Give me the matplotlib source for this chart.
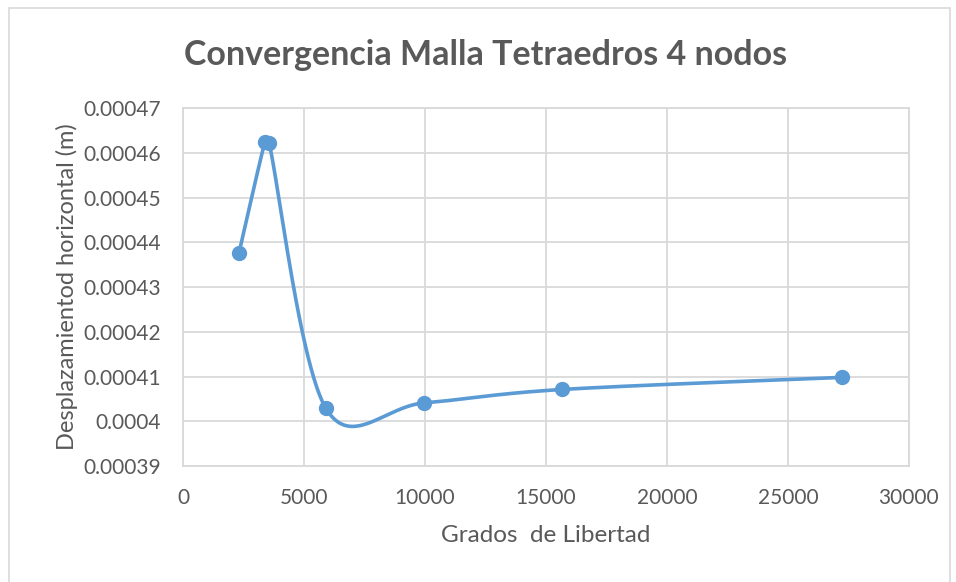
import matplotlib
matplotlib.use("Agg")
import matplotlib.pyplot as plt
from matplotlib.patches import Rectangle
import numpy as np

# ======= DATOS ======= #
grados = [2314, 3380, 3560, 5905, 9970, 15650, 27225]
desplaz = [0.0004376, 0.0004623, 0.0004622, 0.0004029, 0.0004041, 0.0004071, 0.0004098]

x_ticks = [0, 5000, 10000, 15000, 20000, 25000, 30000]
y_ticks = [0.00039, 0.0004, 0.00041, 0.00042, 0.00043, 0.00044, 0.00045, 0.00046, 0.00047]
y_labels = ['0.00039', '0.0004', '0.00041', '0.00042', '0.00043',
            '0.00044', '0.00045', '0.00046', '0.00047']

AZUL = '#5b9bd5'
GRIS = '#595959'
GRID = '#d9d9d9'

plt.rcParams['font.family'] = ['Lato', 'DejaVu Sans']


# ======= SUAVIZADO TIPO EXCEL (bezier con tangentes limitadas) ======= #
def suavizar(px, py, n=80):
    pts = np.column_stack([np.asarray(px, float), np.asarray(py, float)])
    out = []
    for i in range(len(pts) - 1):
        p0 = pts[i - 1] if i > 0 else pts[i]
        p1 = pts[i]
        p2 = pts[i + 1]
        p3 = pts[i + 2] if i + 2 < len(pts) else pts[i + 1]
        d12 = np.linalg.norm(p2 - p1)
        d02 = np.linalg.norm(p2 - p0)
        d13 = np.linalg.norm(p3 - p1)
        f1 = 1 / 6
        f2 = 1 / 6
        if d02 / 6 > d12 / 2 and d02 > 0:
            f1 = d12 / 2 / d02
        if d13 / 6 > d12 / 2 and d13 > 0:
            f2 = d12 / 2 / d13
        c1 = p1 + (p2 - p0) * f1
        c2 = p2 - (p3 - p1) * f2
        t = np.linspace(0, 1, n)[:, None]
        seg = ((1 - t)**3) * p1 + 3 * ((1 - t)**2) * t * c1 + 3 * (1 - t) * t**2 * c2 + t**3 * p2
        out.append(seg)
    out = np.vstack(out)
    return out[:, 0], out[:, 1]


fig = plt.figure(figsize=(9.56, 5.82), dpi=100)
ax = fig.add_axes([0.1914, 0.1993, 0.7594, 0.6151])

ax.set_xlim(0, 30000)
ax.set_ylim(0.00039, 0.00047)

# suavizo en coordenadas de pixel, como hace Excel
fig.canvas.draw()
disp = ax.transData.transform(np.column_stack([grados, desplaz]))
sx, sy = suavizar(disp[:, 0], disp[:, 1])
curva = ax.transData.inverted().transform(np.column_stack([sx, sy]))

ax.plot(curva[:, 0], curva[:, 1], color=AZUL, lw=2.6, solid_capstyle='round', zorder=3)
ax.plot(grados, desplaz, 'o', color=AZUL, ms=10, zorder=4)

ax.set_xticks(x_ticks)
ax.set_xticklabels([str(v) for v in x_ticks])
ax.set_yticks(y_ticks)
ax.set_yticklabels(y_labels)
ax.tick_params(length=0, labelsize=15, colors=GRIS)
ax.tick_params(axis='y', pad=16)
ax.tick_params(axis='x', pad=16)

ax.grid(True, color=GRID, lw=1.3)
ax.set_axisbelow(True)
for s in ax.spines.values():
    s.set_color(GRID)
    s.set_linewidth(1.3)

ax.set_xlabel('Grados  de Libertad', fontsize=17.5, color=GRIS, labelpad=12)
ax.set_ylabel('Desplazamientod horizontal (m)', fontsize=17, color=GRIS, labelpad=4)

fig.text(0.508, 0.905, 'Convergencia Malla Tetraedros 4 nodos', ha='center', va='center',
         fontsize=24.5, fontweight='bold', color=GRIS)

fig.patches.append(Rectangle((0.009, -0.01), 0.985, 0.996, transform=fig.transFigure,
                             fill=False, edgecolor=GRID, lw=1.2))

fig.savefig('out.png', dpi=100)
